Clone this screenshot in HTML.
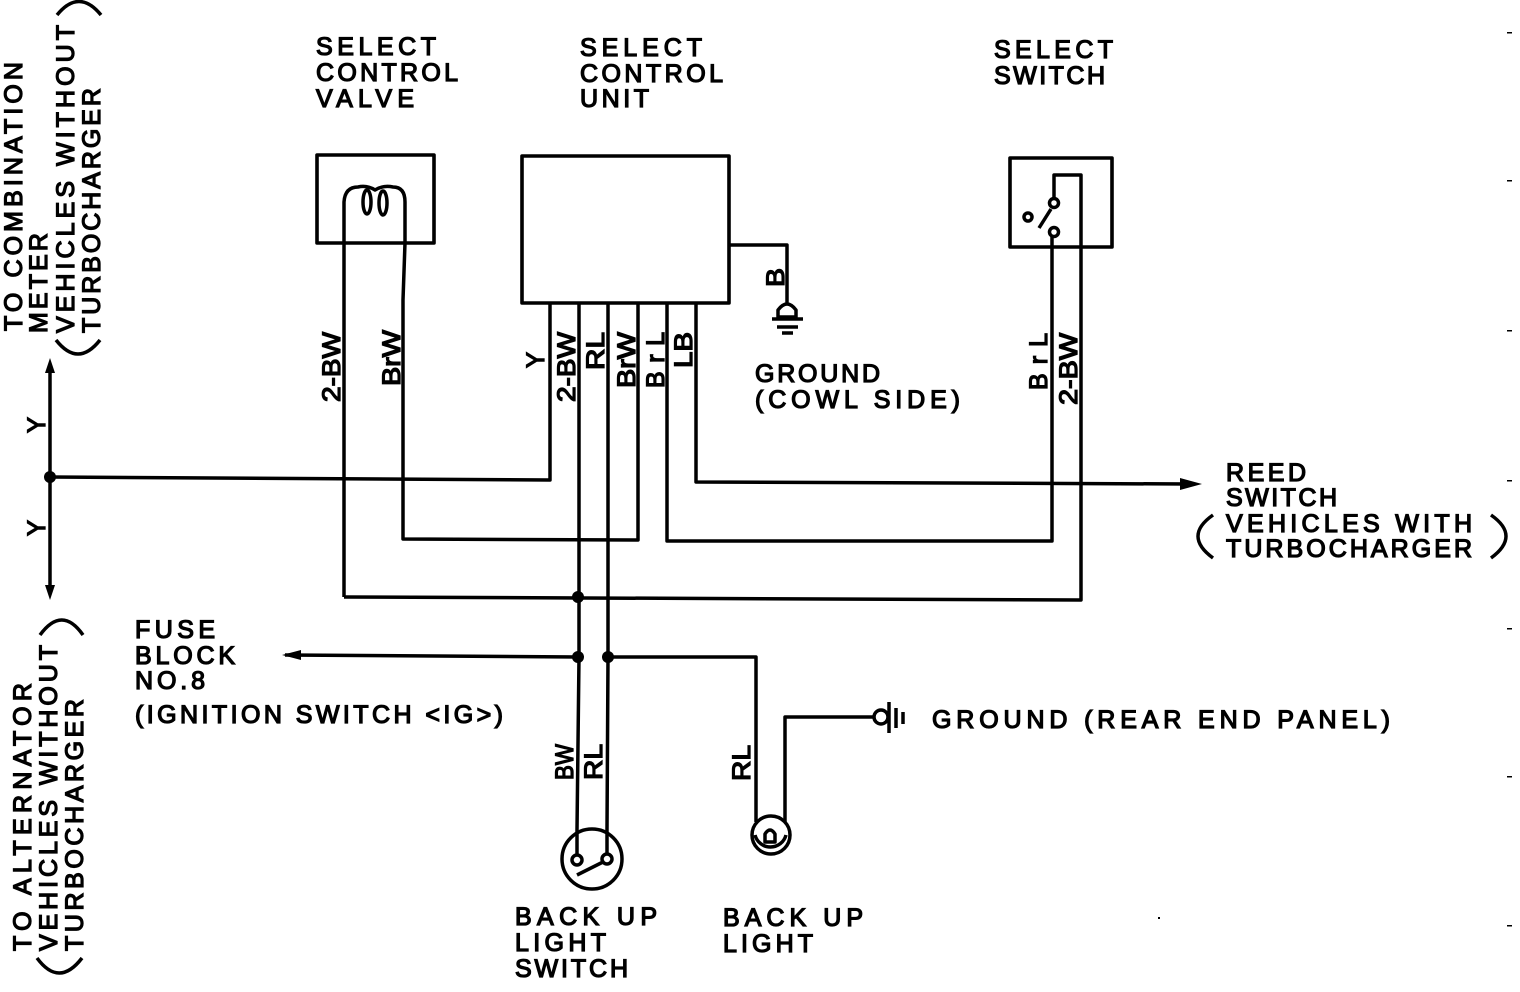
<!DOCTYPE html>
<html><head><meta charset="utf-8"><style>
html,body{margin:0;padding:0;background:#fff}
svg{display:block}
text{font-family:"Liberation Sans",sans-serif;font-size:25px;fill:#000;stroke:#000;stroke-width:1.3px}
.w{fill:none;stroke:#000;stroke-width:3.5;stroke-linejoin:round}
</style></head><body>
<svg width="1520" height="992" viewBox="0 0 1520 992" xmlns="http://www.w3.org/2000/svg">
<rect width="1520" height="992" fill="#fff"/>
<!-- horizontal labels -->
<text x="316" y="55" textLength="120">SELECT</text>
<text x="316" y="81" textLength="142">CONTROL</text>
<text x="316" y="107" textLength="98">VALVE</text>
<text x="580" y="56" textLength="122">SELECT</text>
<text x="580" y="82" textLength="143">CONTROL</text>
<text x="580" y="107" textLength="69">UNIT</text>
<text x="994" y="58" textLength="119">SELECT</text>
<text x="994" y="84" textLength="111">SWITCH</text>
<text x="755" y="382" textLength="125">GROUND</text>
<text x="755" y="408" textLength="205">(COWL SIDE)</text>
<text x="1226" y="481" textLength="80">REED</text>
<text x="1226" y="506" textLength="111">SWITCH</text>
<text x="1226" y="532" textLength="246">VEHICLES WITH</text>
<text x="1226" y="557" textLength="246">TURBOCHARGER</text>
<text x="135" y="638" textLength="80">FUSE</text>
<text x="135" y="664" textLength="100">BLOCK</text>
<text x="135" y="689" textLength="70">NO.8</text>
<text x="135" y="723" textLength="368">(IGNITION SWITCH &lt;IG&gt;)</text>
<text x="932" y="728" textLength="458">GROUND (REAR END PANEL)</text>
<text x="515" y="925" textLength="142">BACK UP</text>
<text x="515" y="951" textLength="91">LIGHT</text>
<text x="515" y="977" textLength="113">SWITCH</text>
<text x="723" y="926" textLength="140">BACK UP</text>
<text x="723" y="952" textLength="90">LIGHT</text>
<!-- vertical labels -->
<g>
<text transform="translate(22,331) rotate(-90)" textLength="269">TO COMBINATION</text>
<text transform="translate(47,333) rotate(-90)" textLength="100">METER</text>
<text transform="translate(74,333) rotate(-90)" textLength="308">VEHICLES WITHOUT</text>
<text transform="translate(100,333) rotate(-90)" textLength="245">TURBOCHARGER</text>
<text transform="translate(31,951) rotate(-90)" textLength="268">TO ALTERNATOR</text>
<text transform="translate(57,951) rotate(-90)" textLength="306">VEHICLES WITHOUT</text>
<text transform="translate(83,951) rotate(-90)" textLength="252">TURBOCHARGER</text>
<text transform="translate(340,402) rotate(-90)" textLength="70" lengthAdjust="spacingAndGlyphs">2-BW</text>
<text transform="translate(400,386) rotate(-90)" textLength="56" lengthAdjust="spacingAndGlyphs">BrW</text>
<text transform="translate(544,368) rotate(-90)" textLength="16" lengthAdjust="spacingAndGlyphs">Y</text>
<text transform="translate(575,402) rotate(-90)" textLength="70" lengthAdjust="spacingAndGlyphs">2-BW</text>
<text transform="translate(604,370) rotate(-90)" textLength="38" lengthAdjust="spacingAndGlyphs">RL</text>
<text transform="translate(635,388) rotate(-90)" textLength="56" lengthAdjust="spacingAndGlyphs">BrW</text>
<text transform="translate(664,388) rotate(-90)" textLength="56">BrL</text>
<text transform="translate(692,368) rotate(-90)" textLength="36" lengthAdjust="spacingAndGlyphs">LB</text>
<text transform="translate(784,287) rotate(-90)" textLength="19" lengthAdjust="spacingAndGlyphs">B</text>
<text transform="translate(1047,390) rotate(-90)" textLength="57">BrL</text>
<text transform="translate(1077,405) rotate(-90)" textLength="72" lengthAdjust="spacingAndGlyphs">2-BW</text>
<text transform="translate(45,433) rotate(-90)" textLength="16" lengthAdjust="spacingAndGlyphs">Y</text>
<text transform="translate(45,536) rotate(-90)" textLength="16" lengthAdjust="spacingAndGlyphs">Y</text>
<text transform="translate(573,780) rotate(-90)" textLength="36" lengthAdjust="spacingAndGlyphs">BW</text>
<text transform="translate(602,780) rotate(-90)" textLength="36" lengthAdjust="spacingAndGlyphs">RL</text>
<text transform="translate(750,781) rotate(-90)" textLength="36" lengthAdjust="spacingAndGlyphs">RL</text>
</g>
<!-- parens -->
<g class="w">
<path d="M57,15 Q79,-12 101,15"/>
<path d="M56,340 Q78,368 100,340"/>
<path d="M40,635 Q62,605 83,635"/>
<path d="M37,958 Q59,988 82,958"/>
<path d="M1213,515 Q1183,536 1213,558"/>
<path d="M1491,515 Q1521,536 1491,558"/>
</g>
<!-- boxes -->
<g class="w" style="stroke-width:3.6">
<rect x="317" y="155" width="117" height="88"/>
<rect x="522" y="156" width="207" height="147"/>
<rect x="1010" y="158" width="102" height="89"/>
</g>
<!-- wires -->
<g class="w">
<path d="M344,597 V202 Q345,187 358,187 Q367,185 375,190 Q383,185 393,187 Q405,187 405,202 V243 L403,300 V539 L638,540 V303"/>
<path d="M344,597 L1081,600 V175 H1054 V203"/>
<path d="M550,303 V480 L50,477"/>
<path d="M579,303 V657 L577,830"/>
<path d="M608,303 V657 L607,830"/>
<path d="M667,303 V541 H1052 V236"/>
<path d="M696,303 V482 L1190,484"/>
<path d="M729,245 H787 V305"/>
<path d="M50,370 V590"/>
<path d="M285,655 L578,657"/>
<path d="M608,657 H756 V822"/>
<path d="M785,822 V717 H875"/>
<path d="M577,830 V854 M607,830 V853"/>
<!-- coil loops -->
<ellipse cx="367" cy="202" rx="4" ry="12"/>
<ellipse cx="383" cy="203" rx="4" ry="12"/>
<!-- ground 1 -->
<path d="M778,317 V310 Q787,298 796,310 V317 Z"/>
<path d="M772,319 H803 M777,327 H798 M782,333 H793" />
<!-- switch box -->
<circle cx="1054" cy="203" r="4.5" fill="#fff"/>
<circle cx="1028" cy="217" r="4" fill="#fff"/>
<circle cx="1054" cy="232" r="4.5" fill="#fff"/>
<path d="M1039,228 L1051,209"/>
<!-- backup switch -->
<circle cx="592" cy="859" r="30"/>
<circle cx="577" cy="860" r="5" fill="#fff"/>
<circle cx="607" cy="859" r="5" fill="#fff"/>
<path d="M577,875 L603,862"/>
<!-- bulb -->
<circle cx="771" cy="835" r="19"/>
<path d="M755,835 A16,16 0 0 0 786,835"/>
<path d="M765,842 V834 Q770,826 775,834 V842 Z"/>
<!-- rear ground -->
<circle cx="881" cy="717" r="7"/>
<path d="M889,702 V733"/>
<path d="M896,708 V728 M903,712 V724"/>
</g>
<!-- arrows and dots -->
<g fill="#000" stroke="none">
<polygon points="50,358 45,373 55,373"/>
<polygon points="50,600 45,585 55,585"/>
<polygon points="1202,484 1180,478 1180,490"/>
<polygon points="282,655 301,650 301,660"/>
<circle cx="50" cy="477" r="6"/>
<circle cx="578" cy="597" r="6"/>
<circle cx="578" cy="657" r="6"/>
<circle cx="608" cy="657" r="6"/>
<rect x="1507" y="32" width="5" height="1.5"/>
<rect x="1507" y="180" width="5" height="1.5"/>
<rect x="1507" y="330" width="5" height="1.5"/>
<rect x="1507" y="480" width="5" height="1.5"/>
<rect x="1507" y="628" width="5" height="1.5"/>
<rect x="1507" y="776" width="5" height="1.5"/>
<rect x="1507" y="925" width="5" height="1.5"/>
<rect x="1158" y="917" width="2" height="2"/>
</g>
</svg>
</body></html>
